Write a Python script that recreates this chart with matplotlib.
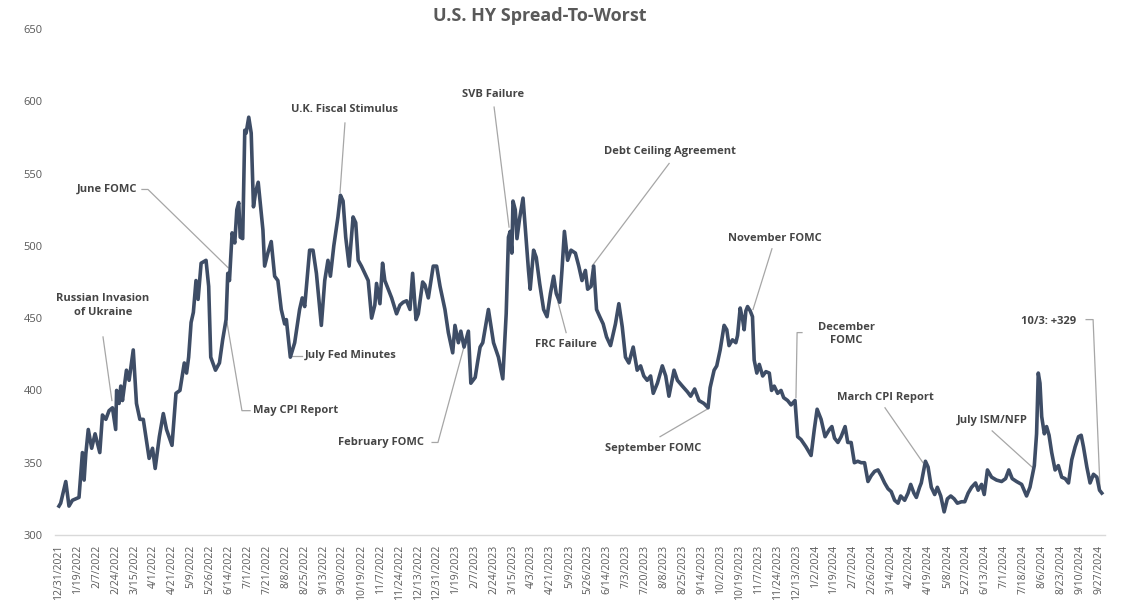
import matplotlib
matplotlib.use("Agg")
import matplotlib.pyplot as plt

# observation position in label periods (one tick label every ~13 trading days)
period = [
    0.00, 0.09, 0.36, 0.53, 0.71, 1.06, 1.24, 1.33, 1.42, 1.55, 1.73, 1.91, 2.16, 2.30, 2.48, 2.65,
    2.83, 3.00, 3.05, 3.18, 3.27, 3.36, 3.57, 3.71, 3.93, 4.10, 4.28, 4.46, 4.60, 4.77, 4.95, 5.09,
    5.31, 5.52, 5.69, 5.98, 6.19, 6.40, 6.63, 6.75, 6.86, 6.99, 7.11, 7.25, 7.36, 7.52, 7.78, 7.92,
    8.03, 8.28, 8.49, 8.66, 8.84, 8.93, 9.02, 9.16, 9.30, 9.41, 9.51, 9.59, 9.72, 9.83, 9.90, 10.04,
    10.17, 10.29, 10.40, 10.54, 10.79, 10.88, 11.05, 11.23, 11.41, 11.58, 11.76, 11.94, 12.03, 12.24,
    12.47, 12.73, 12.87, 13.00, 13.26, 13.44, 13.62, 13.88, 14.06, 14.23, 14.36, 14.54, 14.76, 14.89,
    15.03, 15.17, 15.35, 15.56, 15.70, 15.83, 16.00, 16.18, 16.36, 16.54, 16.71, 16.80, 16.98, 17.12,
    17.24, 17.42, 17.60, 17.86, 18.04, 18.21, 18.39, 18.57, 18.71, 18.89, 19.01, 19.24, 19.36, 19.54,
    19.80, 19.98, 20.16, 20.42, 20.60, 20.83, 20.95, 21.13, 21.26, 21.43, 21.66, 21.79, 22.02, 22.14,
    22.28, 22.42, 22.72, 22.99, 23.25, 23.48, 23.66, 23.78, 23.87, 23.96, 24.02, 24.14, 24.23, 24.37,
    24.55, 24.67, 24.84, 24.93, 25.11, 25.25, 25.43, 25.64, 25.82, 26.00, 26.17, 26.31, 26.49, 26.61,
    26.74, 26.91, 27.09, 27.32, 27.50, 27.67, 27.85, 27.97, 28.15, 28.29, 28.44, 28.61, 28.79, 28.97,
    29.18, 29.44, 29.62, 29.80, 29.97, 30.15, 30.38, 30.59, 30.77, 30.94, 31.12, 31.30, 31.44, 31.66,
    31.92, 32.10, 32.27, 32.54, 32.72, 32.98, 33.25, 33.42, 33.63, 33.86, 34.12, 34.34, 34.45, 34.66,
    34.80, 34.98, 35.19, 35.33, 35.45, 35.63, 35.81, 35.90, 36.04, 36.17, 36.25, 36.34, 36.43, 36.57,
    36.69, 36.78, 36.92, 37.05, 37.23, 37.40, 37.58, 37.70, 37.84, 38.02, 38.20, 38.34, 38.55, 38.73,
    38.94, 39.08, 39.26, 39.52, 39.79, 39.96, 40.11, 40.32, 40.53, 40.76, 40.89, 41.03, 41.21, 41.38,
    41.59, 41.73, 41.91, 42.08, 42.26, 42.44, 42.62, 42.80, 42.97, 43.15, 43.33, 43.50, 43.68, 43.86,
    44.03, 44.21, 44.39, 44.53, 44.74, 44.92, 45.06, 45.23, 45.36, 45.53, 45.62, 45.84, 45.98, 46.15,
    46.33, 46.47, 46.65, 46.83, 47.00, 47.18, 47.36, 47.53, 47.75, 47.92, 48.10, 48.28, 48.49, 48.63,
    48.81, 48.95, 49.12, 49.34, 49.60, 49.87, 50.08, 50.25, 50.43, 50.66, 50.93, 51.19, 51.37, 51.60,
    51.72, 51.81, 51.90, 51.99, 52.13, 52.25, 52.38, 52.52, 52.70, 52.87, 53.05, 53.23, 53.41, 53.58,
    53.76, 53.94, 54.08, 54.20, 54.38, 54.55, 54.73, 54.91, 55.05, 55.17,
]

# spread-to-worst, bp
spread = [
    320, 322, 337, 320, 324, 326, 357, 338, 356, 373, 360, 370, 357, 383, 380, 386,
    388, 373, 400, 391, 403, 393, 414, 407, 428, 391, 380, 380, 368, 353, 360, 346,
    368, 384, 373, 362, 398, 400, 419, 412, 423, 447, 454, 476, 463, 488, 490, 472,
    423, 414, 419, 435, 449, 481, 476, 509, 502, 525, 530, 506, 505, 580, 578, 589,
    578, 527, 537, 544, 511, 486, 495, 503, 479, 476, 456, 446, 449, 423,
    433, 456, 464, 458, 497, 497, 481, 445, 476, 490, 479, 500, 520, 535,
    531, 506, 486, 520, 516, 490, 486, 481, 476, 450, 459, 474, 460, 488,
    476, 470, 464, 453, 459, 461, 462, 456, 481, 449, 453, 475, 473, 464,
    486, 486, 472, 456, 440, 426, 445, 433, 441, 430, 441, 405, 409, 419,
    430, 433, 456, 433, 423, 408, 453, 506, 510, 495, 531, 525, 505, 519,
    533, 512, 483, 470, 497, 492, 474, 456, 451, 467, 479, 467, 461, 483,
    510, 490, 497, 495, 486, 476, 483, 470, 472, 486, 456, 451, 446, 437,
    431, 446, 460, 444, 423, 419, 430, 414, 417, 410, 407, 410, 398, 405,
    417, 410, 396, 414, 407, 403, 399, 396, 401, 393, 391, 388, 402, 414,
    417, 428, 445, 442, 431, 435, 433, 438, 457, 449, 442, 455, 458, 455,
    451, 421, 412, 418, 410, 413, 412, 400, 403, 398, 400, 395, 393, 390,
    393, 368, 366, 361, 355, 373, 387, 380, 368, 373, 375, 367, 364, 368,
    375, 364, 364, 350, 351, 350, 350, 337, 341, 344, 345, 341, 336, 332,
    330, 324, 322, 327, 324, 329, 335, 329, 326, 333, 336, 351, 347, 333,
    328, 333, 327, 316, 325, 327, 325, 322, 323, 323, 329, 333, 336, 331,
    335, 328, 345, 340, 338, 337, 339, 345, 339, 337, 335, 327, 333, 348,
    370, 412, 405, 382, 370, 375, 369, 357, 345, 348, 340, 339, 336, 352,
    361, 368, 369, 361, 347, 336, 342, 340, 331, 329,
]

date_labels = [
    "12/31/2021", "1/19/2022", "2/7/2022", "2/24/2022", "3/15/2022", "4/1/2022", "4/21/2022",
    "5/9/2022", "5/26/2022", "6/14/2022", "7/1/2022", "7/21/2022", "8/8/2022", "8/25/2022",
    "9/13/2022", "9/30/2022", "10/19/2022", "11/7/2022", "11/24/2022", "12/13/2022", "12/31/2022",
    "1/19/2023", "2/7/2023", "2/24/2023", "3/15/2023", "4/3/2023", "4/21/2023", "5/9/2023",
    "5/26/2023", "6/14/2023", "7/3/2023", "7/20/2023", "8/8/2023", "8/25/2023", "9/14/2023",
    "10/2/2023", "10/19/2023", "11/7/2023", "11/24/2023", "12/13/2023", "1/2/2024", "1/19/2024",
    "2/7/2024", "2/26/2024", "3/14/2024", "4/2/2024", "4/19/2024", "5/8/2024", "5/27/2024",
    "6/13/2024", "7/1/2024", "7/18/2024", "8/6/2024", "8/23/2024", "9/10/2024", "9/27/2024",
]

y_ticks = [300, 350, 400, 450, 500, 550, 600, 650]

# event callouts: label, text anchor, leader line vertices (period, bp)
events = [
    ("Russian Invasion\nof Ukraine", (2.33, 459), "center", [(2.33, 437), (2.80, 393)]),
    ("June FOMC", (4.13, 539), "right", [(4.39, 539), (4.71, 539), (8.94, 485)]),
    ("May CPI Report", (10.26, 386), "left", [(10.11, 386), (9.68, 386), (8.89, 447)]),
    ("U.K. Fiscal Stimulus", (15.13, 594), "center", [(15.13, 585), (14.87, 537)]),
    ("July Fed Minutes", (13.02, 424), "left", [(12.33, 424), (12.86, 424)]),
    ("SVB Failure", (22.96, 605), "center", [(23.02, 596), (23.81, 513)]),
    ("Debt Ceiling Agreement", (32.33, 565), "center", [(32.28, 557), (28.20, 486)]),
    ("FRC Failure", (26.83, 432), "center", [(26.83, 440), (26.40, 461)]),
    ("February FOMC", (17.04, 364), "center", [(19.74, 364), (20.05, 364), (21.59, 438)]),
    ("September FOMC", (31.43, 360), "center", [(31.80, 368), (34.29, 387)]),
    ("November FOMC", (37.88, 505), "center", [(37.72, 498), (36.72, 456)]),
    ("December\nFOMC", (41.64, 439), "center", [(39.31, 440), (39.05, 440), (38.99, 395)]),
    ("March CPI Report", (43.70, 395), "center", [(43.70, 388), (45.71, 350)]),
    ("July ISM/NFP", (49.37, 379), "center", [(49.37, 372), (51.48, 347)]),
    ("10/3: +329", (52.33, 448), "center", [(54.34, 449), (54.71, 449), (55.08, 331)]),
]

LINE = "#3E4D66"
GREY = "#595959"
LEADER = "#A6A6A6"

plt.rcParams["font.family"] = ["Open Sans", "DejaVu Sans"]

fig = plt.figure(figsize=(11.28, 6.03), dpi=100)
ax = fig.add_axes([55 / 1128, 1 - 535 / 603, 1050 / 1128, 506 / 603])

ax.plot(period, spread, color=LINE, linewidth=2.6, solid_joinstyle="round", zorder=3)

for label, (tx, ty), ha, path in events:
    ax.text(tx, ty, label, ha=ha, va="center", fontsize=8, fontweight="bold",
            color="#454545", linespacing=1.35, zorder=4)
    xs, ys = zip(*path)
    ax.plot(xs, ys, color=LEADER, linewidth=0.9, zorder=2, clip_on=False)

ax.set_xlim(-0.21, 55.34)
ax.set_ylim(300, 650)
ax.set_xticks(range(len(date_labels)))
ax.set_xticklabels(date_labels, rotation=90, fontsize=7.5, color=GREY)
ax.set_yticks(y_ticks)
ax.set_yticklabels([str(v) for v in y_ticks], fontsize=8, color=GREY)
ax.tick_params(axis="both", length=0)
ax.tick_params(axis="x", pad=7)
ax.tick_params(axis="y", pad=9)

for side in ("top", "right", "left"):
    ax.spines[side].set_visible(False)
ax.spines["bottom"].set_color("#D9D9D9")
ax.spines["bottom"].set_linewidth(1.0)

fig.text(540 / 1128, 1 - 16 / 603, "U.S. HY Spread-To-Worst", ha="center", va="center",
         fontsize=13, fontweight="bold", color=GREY)

fig.savefig("out.png", dpi=100)
